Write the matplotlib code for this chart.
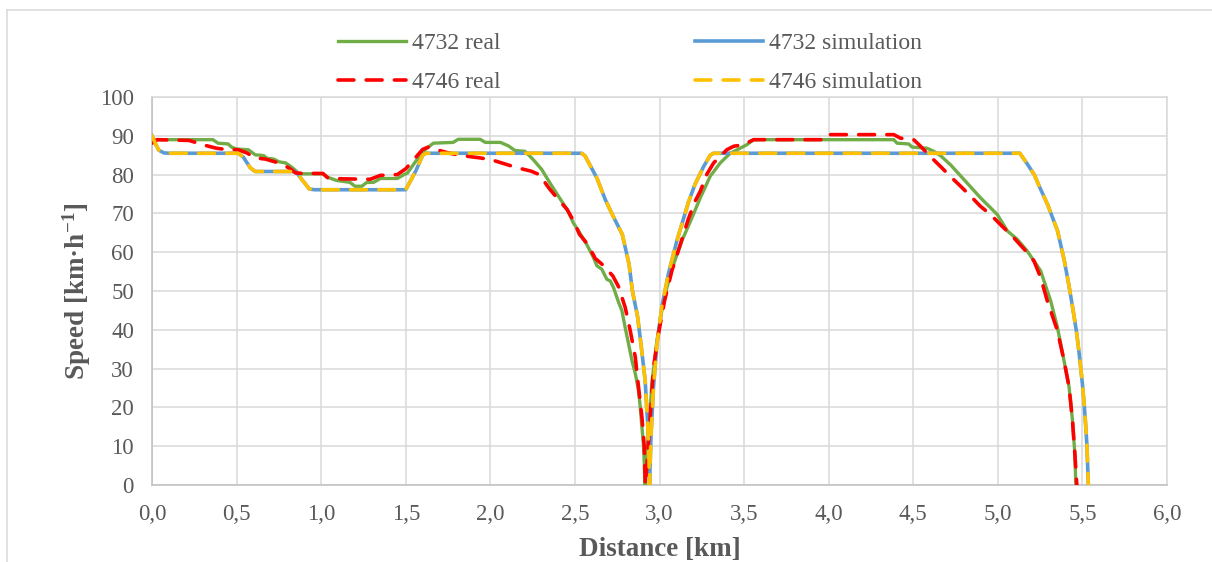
import matplotlib
matplotlib.use("Agg")
import matplotlib.pyplot as plt
from matplotlib.lines import Line2D
from matplotlib.ticker import FuncFormatter

plt.rcParams['font.family'] = ['Liberation Serif', 'DejaVu Serif']
plt.rcParams['mathtext.fontset'] = 'custom'
plt.rcParams['mathtext.rm'] = 'Liberation Serif:bold'
plt.rcParams['mathtext.bf'] = 'Liberation Serif:bold'
plt.rcParams['mathtext.it'] = 'Liberation Serif:bold:italic'

# ---------------- data ----------------
real_4732_dist = [0.00, 0.36, 0.39, 0.45, 0.47, 0.50, 0.57, 0.61, 0.66, 0.68, 0.72, 0.75, 0.79, 0.82,
                  0.84, 0.87, 1.01, 1.04, 1.09, 1.17, 1.20, 1.24, 1.27, 1.31, 1.35, 1.45, 1.49, 1.51,
                  1.565, 1.614, 1.663, 1.78, 1.81, 1.94, 1.97, 2.06, 2.107, 2.146, 2.205, 2.255, 2.304,
                  2.353, 2.403, 2.454, 2.49, 2.521, 2.570, 2.610, 2.630, 2.659, 2.689, 2.709, 2.728,
                  2.758, 2.778, 2.797, 2.817, 2.837, 2.857, 2.876, 2.886, 2.896, 2.906, 2.910, 2.914,
                  2.935, 2.955, 2.985, 3.014, 3.044, 3.083, 3.132, 3.192, 3.241, 3.300, 3.359, 3.418,
                  3.477, 3.516, 3.556, 4.385, 4.404, 4.473, 4.493, 4.582, 4.621, 4.661, 4.721, 4.819,
                  4.898, 4.997, 5.056, 5.115, 5.174, 5.253, 5.312, 5.352, 5.391, 5.421, 5.441, 5.455, 5.461]
real_4732_speed = [89.0, 89.0, 88.1, 87.9, 87.1, 86.6, 86.4, 85.1, 84.9, 84.2, 84.0, 83.3, 83.0, 82.1,
                   81.4, 80.2, 80.2, 79.3, 78.5, 78.0, 77.0, 77.0, 78.0, 78.0, 79.0, 79.0, 80.0, 80.4,
                   83.8, 86.4, 88.1, 88.3, 89.1, 89.1, 88.3, 88.3, 87.4, 86.2, 86.0, 83.8, 81.3,
                   77.8, 74.4, 71.0, 67.6, 65.5, 62.0, 58.6, 56.5, 55.6, 53.0, 52.6, 50.9,
                   47.1, 44.9, 40.6, 36.4, 32.1, 28.7, 24.4, 20.1, 15.0, 9.9, 5.6, 0.0,
                   13.3, 26.2, 37.3, 45.0, 50.9, 56.9, 62.9, 68.9, 74.0, 79.6, 83.0, 85.5,
                   86.8, 87.7, 89.0, 89.0, 88.1, 87.9, 87.1, 86.8, 86.0, 84.9, 82.5, 77.8,
                   74.0, 69.7, 65.5, 63.3, 60.3, 55.2, 47.5, 40.7, 32.1, 25.3, 16.8, 8.2, 0.0]

real_4746_dist = [0.00, 0.03, 0.22, 0.30, 0.38, 0.45, 0.51, 0.56, 0.61, 0.67, 0.75, 0.81, 0.85, 0.90,
                  1.01, 1.04, 1.13, 1.29, 1.35, 1.45, 1.50, 1.55, 1.60, 1.634, 1.683, 1.76, 1.85, 1.94,
                  2.008, 2.097, 2.156, 2.24, 2.29, 2.345, 2.394, 2.454, 2.493, 2.527, 2.576, 2.62, 2.66,
                  2.724, 2.758, 2.797, 2.827, 2.857, 2.876, 2.896, 2.910, 2.916, 2.925, 2.945, 2.965,
                  2.994, 3.030, 3.073, 3.123, 3.17, 3.211, 3.241, 3.28, 3.320, 3.398, 3.438, 3.497,
                  3.556, 3.98, 4.0, 4.385, 4.424, 4.503, 4.543, 4.621, 4.661, 4.72, 4.78, 4.84, 4.898,
                  4.957, 5.016, 5.095, 5.174, 5.213, 5.253, 5.292, 5.352, 5.391, 5.421, 5.441, 5.455, 5.467]
real_4746_speed = [88.1, 89.0, 88.8, 87.7, 86.8, 86.4, 86.4, 85.6, 84.3, 84.0, 83.0, 81.7, 80.4, 80.3,
                   80.3, 79.1, 78.9, 78.8, 79.8, 80.0, 81.5, 84.0, 86.5, 87.1, 86.4, 85.5, 84.8, 84.3,
                   83.8, 82.6, 81.8, 80.9, 80.0, 76.6, 74.0, 71.0, 68.0, 64.6, 62.0, 58.4, 56.9,
                   53.9, 51.1, 45.8, 39.8, 32.9, 25.2, 17.5, 9.9, 0.0, 4.8, 17.6, 30.4,
                   39.0, 47.5, 55.2, 62.0, 68.5, 73.2, 75.7, 80.1, 83.0, 86.4, 87.3, 87.7,
                   89.0, 89.0, 90.3, 90.3, 89.4, 89.0, 87.3, 83.8, 82.1, 79.5, 77.0, 74.4, 71.8,
                   69.7, 67.1, 63.7, 59.9, 57.8, 53.5, 47.5, 39.8, 32.1, 25.3, 16.8, 8.2, 0.0]

sim_4732_dist = [0.00, 0.02, 0.04, 0.07, 0.10, 0.51, 0.54, 0.58, 0.61, 0.85, 0.89, 0.93, 0.96, 1.50,
                 1.56, 1.60, 1.62, 2.54, 2.56, 2.63, 2.68, 2.73, 2.78, 2.82, 2.84, 2.87, 2.89, 2.915,
                 2.93, 2.937, 2.941, 2.950, 2.964, 2.984, 3.014, 3.053, 3.103, 3.172, 3.21, 3.26, 3.30,
                 3.32, 5.13, 5.17, 5.215, 5.25, 5.294, 5.353, 5.393, 5.42, 5.442, 5.465, 5.481, 5.50,
                 5.51, 5.52, 5.527, 5.535]
sim_4732_speed = [90.0, 88.0, 86.3, 85.6, 85.5, 85.5, 84.5, 81.8, 80.8, 80.8, 78.5, 76.3, 76.1, 76.1,
                  81.0, 85.0, 85.5, 85.5, 84.8, 79.1, 73.5, 68.9, 64.6, 56.9, 50.0, 43.5, 36.5, 27.0,
                  16.0, 8.0, 0.0, 13.0, 25.0, 36.0, 46.0, 54.5, 63.0, 73.0, 77.5, 82.0, 85.0,
                  85.5, 85.5, 83.0, 80.0, 76.5, 72.3, 65.5, 57.8, 51.5, 45.8, 39.5, 33.8, 26.0,
                  21.0, 15.0, 9.9, 0.0]

# the two simulation runs overlap exactly in the reference
sim_4746_dist = list(sim_4732_dist)
sim_4746_speed = list(sim_4732_speed)

x_ticks = [0.0, 0.5, 1.0, 1.5, 2.0, 2.5, 3.0, 3.5, 4.0, 4.5, 5.0, 5.5, 6.0]
y_ticks = [0, 10, 20, 30, 40, 50, 60, 70, 80, 90, 100]

# ---------------- styling ----------------
TXT = '#595959'
GRID = '#d9d9d9'
W, H = 1212, 562

fig = plt.figure(figsize=(W / 100, H / 100), dpi=100)
ax = fig.add_axes([152 / W, 1 - 485 / H, (1167 - 152) / W, (485 - 97) / H])

lw = 2.4
ax.plot(real_4732_dist, real_4732_speed, color='#70AD47', lw=lw, solid_joinstyle='round',
        label='4732 real', zorder=3)
ax.plot(sim_4732_dist, sim_4732_speed, color='#5B9BD5', lw=lw + 0.2, solid_joinstyle='round',
        label='4732 simulation', zorder=4)
ax.plot(real_4746_dist, real_4746_speed, color='#FF0000', lw=lw + 0.2, dashes=(4.4, 3.4),
        dash_capstyle='round', label='4746 real', zorder=5)
ax.plot(sim_4746_dist, sim_4746_speed, color='#FFC000', lw=lw + 0.2, dashes=(4.4, 3.4),
        dash_capstyle='round', label='4746 simulation', zorder=6)

ax.set_xlim(0, 6)
ax.set_ylim(0, 100)
ax.set_xticks(x_ticks)
ax.set_yticks(y_ticks)
ax.xaxis.set_major_formatter(FuncFormatter(lambda v, p: f'{v:.1f}'.replace('.', ',')))
ax.tick_params(axis='both', length=0, labelsize=16.5, labelcolor=TXT)
ax.tick_params(axis='x', pad=14)
ax.tick_params(axis='y', pad=13)
ax.grid(True, color=GRID, lw=1.1, zorder=0)
ax.set_axisbelow(True)
for s in ['top', 'right']:
    ax.spines[s].set_color(GRID)
    ax.spines[s].set_linewidth(1.1)
for s in ['left', 'bottom']:
    ax.spines[s].set_color('#bfbfbf')
    ax.spines[s].set_linewidth(1.1)

ax.set_xlabel('Distance [km]', fontsize=19.5, fontweight='bold', color=TXT)
ax.set_ylabel('Speed [km·h$^{\\mathbf{-1}}$]', fontsize=19.5, fontweight='bold', color=TXT)
ax.yaxis.set_label_coords((93 - 152) / (1167 - 152), 0.5)
ax.xaxis.set_label_coords(0.5, -(537 - 485) / (485 - 97))

# legend: rows = run, columns = real / simulation
h, l = ax.get_legend_handles_labels()
order = [0, 2, 1, 3]
fig.legend([h[i] for i in order], [l[i] for i in order], ncol=2, loc='center',
           bbox_to_anchor=(630 / W, 1 - 62.5 / H), frameon=False, fontsize=17,
           labelcolor=TXT, handlelength=2.9, handletextpad=0.25, columnspacing=8.2,
           labelspacing=0.74)

# chart-area border (top and left visible in the reference)
fig.add_artist(Line2D([7 / W, 1.0], [1 - 10 / H, 1 - 10 / H], color=GRID, lw=1.1))
fig.add_artist(Line2D([7 / W, 7 / W], [0.0, 1 - 10 / H], color=GRID, lw=1.1))

fig.savefig('out.png', dpi=100)
